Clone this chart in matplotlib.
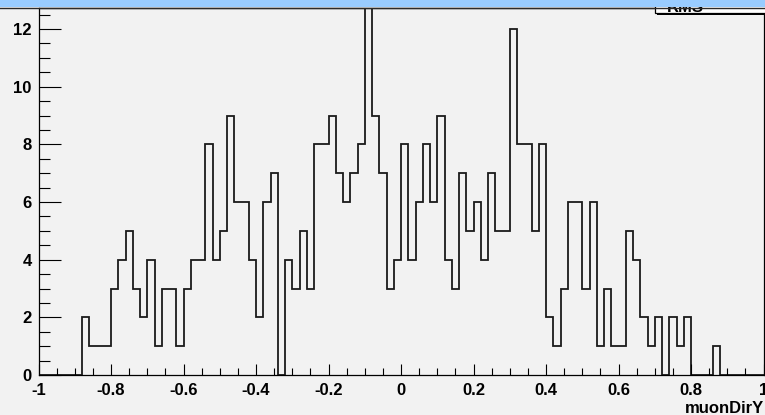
import numpy as np
import matplotlib
matplotlib.use("Agg")
import matplotlib.pyplot as plt
from matplotlib.patches import Rectangle
from matplotlib.ticker import MultipleLocator

# histogram of muonDirY, 100 bins from -1 to 1
x_lo, x_hi = -1.0, 1.0
counts = [
    0, 0, 0, 0, 0, 0, 2, 1, 1, 1,
    3, 4, 5, 3, 2, 4, 1, 3, 3, 1,
    3, 4, 4, 8, 4, 5, 9, 6, 6, 4,
    2, 6, 7, 0, 4, 3, 5, 3, 8, 8,
    9, 7, 6, 7, 8, 13, 9, 7, 3, 4,
    8, 4, 6, 8, 6, 9, 4, 3, 7, 5,
    6, 4, 7, 5, 5, 12, 8, 8, 5, 8,
    2, 1, 3, 6, 6, 3, 6, 1, 3, 1,
    1, 5, 4, 2, 1, 2, 0, 2, 1, 2,
    0, 0, 0, 1, 0, 0, 0, 0, 0, 0,
]
x_ticks = [-1, -0.8, -0.6, -0.4, -0.2, 0, 0.2, 0.4, 0.6, 0.8, 1]
x_tick_labels = ["-1", "-0.8", "-0.6", "-0.4", "-0.2", "0", "0.2", "0.4", "0.6", "0.8", "1"]
y_ticks = [0, 2, 4, 6, 8, 10, 12]
x_title = "muonDirY"

W, H = 765, 415
bg = "#f2f2f2"
font = "Liberation Sans"
fsize = 12

fig = plt.figure(figsize=(W / 100, H / 100), dpi=100, facecolor=bg)
ax = fig.add_axes([38.5 / W, 1 - 375 / H, (763.5 - 38.5) / W, (375 - 8) / H])
ax.set_facecolor(bg)

edges = np.linspace(x_lo, x_hi, len(counts) + 1)
ax.stairs(counts, edges, color="#1a1a1a", linewidth=1.3)

ax.set_xlim(x_lo, x_hi)
ax.set_ylim(0, 12.73)

ax.set_xticks(x_ticks)
ax.set_xticklabels(x_tick_labels)
ax.set_yticks(y_ticks)
ax.xaxis.set_minor_locator(MultipleLocator(0.05))
ax.yaxis.set_minor_locator(MultipleLocator(0.5))
ax.tick_params(axis="x", which="major", direction="in", length=8, width=0.8, pad=5.5)
ax.tick_params(axis="x", which="minor", direction="in", length=4.7, width=0.8)
ax.tick_params(axis="y", which="major", direction="in", length=15.6, width=0.8, pad=4.8)
ax.tick_params(axis="y", which="minor", direction="in", length=7.7, width=0.8)
for lab in ax.get_xticklabels() + ax.get_yticklabels():
    lab.set_fontfamily(font)
    lab.set_fontweight("bold")
    lab.set_fontsize(fsize)
for sp in ax.spines.values():
    sp.set_linewidth(0.9)

fig.text(764 / W, 1 - 413 / H, x_title, ha="right", va="baseline",
         fontfamily=font, fontweight="bold", fontsize=fsize)

# overlay in pixel coordinates for the stats box and the window bar
ov = fig.add_axes([0, 0, 1, 1], zorder=5)
ov.set_xlim(0, W)
ov.set_ylim(H, 0)
ov.axis("off")
ov.patch.set_alpha(0)
ov.add_patch(Rectangle((657, -10), 120, 25, facecolor="black", edgecolor="none"))
ov.add_patch(Rectangle((655, -12), 120, 25, facecolor="white", edgecolor="black", linewidth=0.9))
ov.text(667, 11.5, "RMS", ha="left", va="baseline", fontfamily=font,
        fontweight="bold", fontsize=fsize)
ov.add_patch(Rectangle((0, 0), W, 7.5, facecolor="#99ccff", edgecolor="none", zorder=10))
ov.plot([0, W], [7.8, 7.8], color="#2a2a2a", linewidth=1.0, zorder=11)

fig.savefig("out.png", dpi=100, facecolor=bg)
